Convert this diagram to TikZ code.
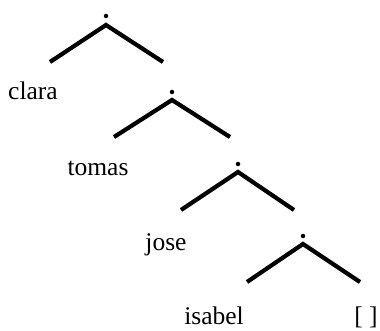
\documentclass[tikz,border=0pt]{standalone}
\usepackage{fontspec}
\setmainfont{Liberation Serif}
\usepackage{tikz}
\tikzstyle{dot}=[shape=circle,fill,inner sep=0pt,minimum size=4.5pt]
\tikzstyle{pt}=[shape=coordinate]
\tikzstyle{leg}=[line width=4.2pt,line join=miter]
\tikzstyle{word}=[inner sep=0pt,anchor=base,font=\fontsize{25.5}{30}\selectfont]

\begin{document}
\begin{tikzpicture}[x=1pt,y=-1pt]
            \useasboundingbox (0, 0) rectangle (380, 331);
            % first cell
            \node[dot] (D1) at (106, 16) {};
            \node[pt] (A1) at (106, 25) {};
            \node[pt] (L1) at (50, 62) {};
            \node[pt] (R1) at (163, 62) {};
            \draw[leg] (L1) -- (A1) -- (R1);
            \node[word] (clara) at (33, 100) {clara};
            % second cell
            \node[dot] (D2) at (172, 92) {};
            \node[pt] (A2) at (172, 100) {};
            \node[pt] (L2) at (114, 137) {};
            \node[pt] (R2) at (230, 137) {};
            \draw[leg] (L2) -- (A2) -- (R2);
            \node[word] (tomas) at (98, 176) {tomas};
            % third cell
            \node[dot] (D3) at (238, 164) {};
            \node[pt] (A3) at (238, 172) {};
            \node[pt] (L3) at (181, 210) {};
            \node[pt] (R3) at (294, 210) {};
            \draw[leg] (L3) -- (A3) -- (R3);
            \node[word] (jose) at (166, 251) {jose};
            % fourth cell
            \node[dot] (D4) at (303, 236) {};
            \node[pt] (A4) at (303, 244) {};
            \node[pt] (L4) at (247, 282) {};
            \node[pt] (R4) at (360, 282) {};
            \draw[leg] (L4) -- (A4) -- (R4);
            \node[word] (isabel) at (214, 324) {isabel};
            \node[word] (nil) at (366, 324) {[ ]};
        \end{tikzpicture}
\end{document}
